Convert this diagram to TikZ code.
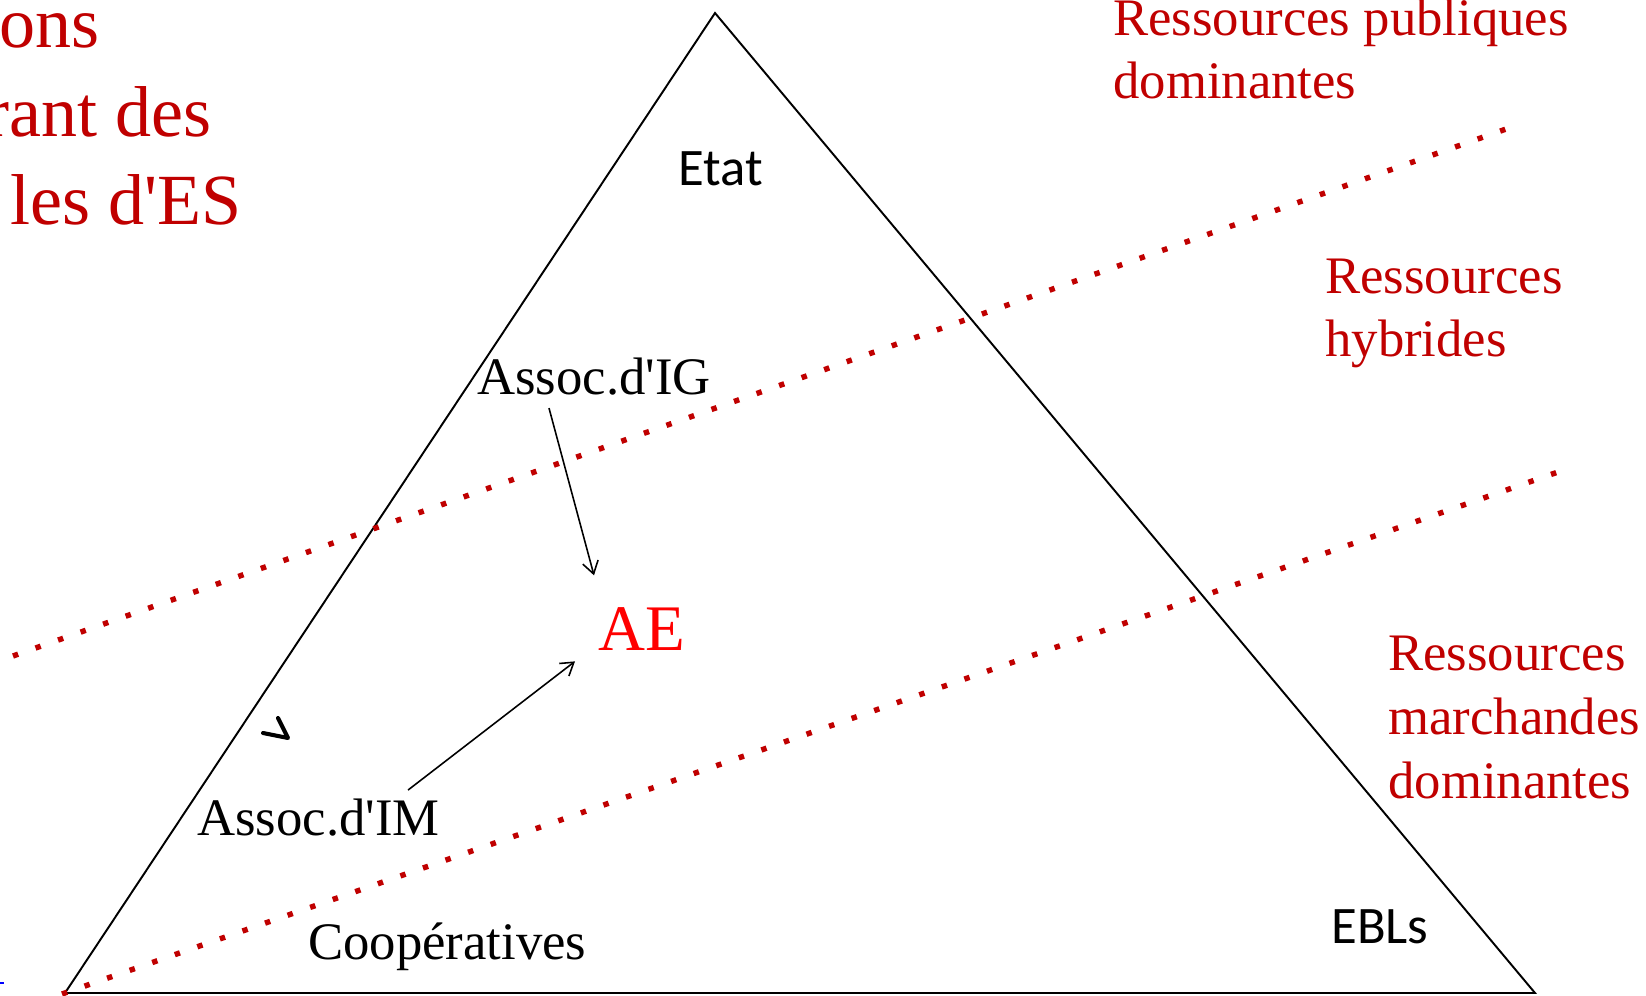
\documentclass[tikz,border=0pt]{standalone}
\usepackage{fontspec}
\setmainfont{Liberation Serif}
\newfontfamily\calibrifont{Carlito}
\usetikzlibrary{
    positioning,      % For placing nodes relative to each other
    arrows.meta       % For modern arrow tips
}
\definecolor{darkred}{HTML}{C00000}

\begin{document}
\begin{tikzpicture}[
    x=0.02cm, y=-0.02cm,
    % Style for the red resource labels
    resource_style/.style={
        text=darkred,
        font=\fontsize{30}{36.3}\selectfont,
        align=left, inner sep=0pt, anchor=base west
    },
    % Style for the black serif labels inside the triangle
    serif_style/.style={
        font=\fontsize{30}{34}\selectfont,
        inner sep=0pt, anchor=base west
    },
    % Style for the black sans labels
    sans_style/.style={
        font=\calibrifont\fontsize{30}{34}\selectfont,
        inner sep=0pt, anchor=base west
    },
    % Style for the dotted separation lines
    dotted_style/.style={
        darkred, line width=3.1pt,
        dash pattern=on 3.1pt off 10.5pt
    },
    % Style for arrowheads
    arrow_tip/.style={
        line width=0.9pt,
        -{Straight Barb[length=7pt, width=9pt]}
    }
]
    \useasboundingbox (0,0) rectangle (1646,996);

    % 1. The triangle and the two dotted lines.
    \draw[line width=1.1pt, line join=miter] (715,13) -- (65,993) -- (1535,993) -- cycle;
    \draw[dotted_style] (13,656) -- (1509,128);
    \draw[dotted_style] (62,994) -- (1558,472);

    % 2. The title text, cut by the left border (anchor on the last line).
    \node[resource_style, font=\fontsize{41}{50.5}\selectfont] (title_text) at (-1,225)
        {ons\\\hspace*{-8pt}rant des\\\hspace*{6.5pt}les d\textquotesingle ES};

    % 3. The resource labels on the right.
    \node[resource_style] (public_res) at (1113,99) {Ressources publiques\\dominantes};
    \node[resource_style] (hybrid_res) at (1325,357) {Ressources\\hybrides};
    \node[resource_style] (market_res) at (1388,798) {Ressources\\marchandes\\dominantes};

    % 4. The labels inside the triangle.
    \node[sans_style] (etat) at (678,186) {Etat};
    \node[sans_style] (ebls) at (1331,943) {EBLs};
    \node[serif_style] (assoc_ig) at (477,395) {Assoc.d\textquotesingle IG};
    \node[serif_style] (assoc_im) at (197,835) {Assoc.d\textquotesingle IM};
    \node[serif_style] (cooperatives) at (308,959) {Coopératives};
    \node[serif_style, text=red, font=\fontsize{37}{42}\selectfont] (ae) at (598,650) {AE};

    % 5. The arrows towards AE.
    \draw[arrow_tip] ([shift={(72,12)}]assoc_ig.south west) -- ([shift={(-4,-75)}]ae.south west);
    \draw[arrow_tip] ([shift={(211,-8)}]assoc_im.north west) -- ([shift={(-23,11)}]ae.south west);

    % 6. The small stray mark and the blue dash.
    \draw[line width=2.3pt, line cap=round, line join=round] (263,733) -- (288,738) -- (278,718);
    \draw[blue, line width=0.8pt] (0,983) -- (4,983);
\end{tikzpicture}
\end{document}
